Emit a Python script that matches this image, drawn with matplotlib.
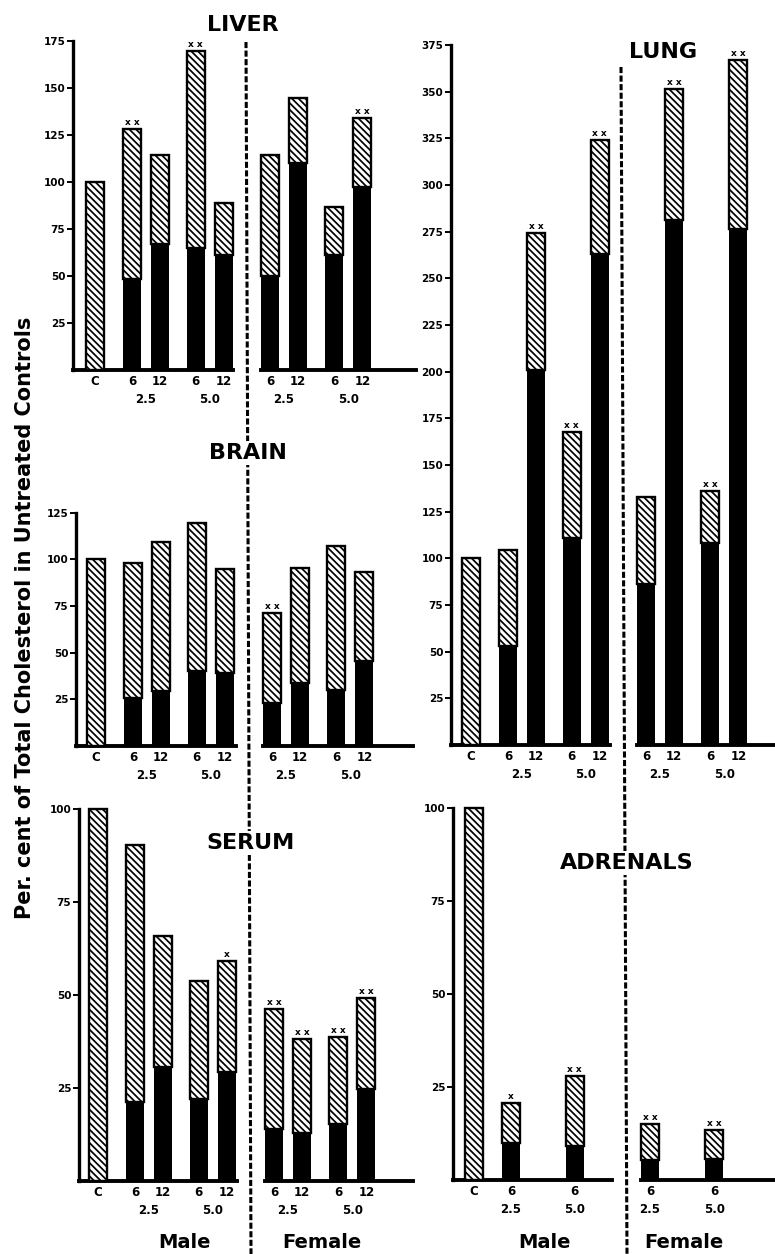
import matplotlib
matplotlib.use("Agg")
import matplotlib.pyplot as plt
from matplotlib.lines import Line2D
import numpy as np

plt.rcParams['font.family'] = ['DejaVu Sans']
plt.rcParams['font.weight'] = 'bold'
plt.rcParams['hatch.linewidth'] = 1.25

# --- data (per cent of total cholesterol in untreated controls) ---
# total bar height and the solid (black) lower part
male_hours = ['C', '6', '12', '6', '12']
female_hours = ['6', '12', '6', '12']
doses = ['2.5', '5.0']

liver_m_total = [100, 128.4, 114.5, 169.7, 88.7]
liver_m_solid = [0, 48.6, 66.8, 65.0, 61.0]
liver_m_sig = ['', 'xx', '', 'xx', '']
liver_f_total = [114.2, 144.5, 86.7, 134.2]
liver_f_solid = [50.0, 110.3, 61.0, 97.3]
liver_f_sig = ['', '', '', 'xx']

brain_m_total = [100, 98.2, 109.1, 119.3, 94.6]
brain_m_solid = [0, 25.5, 29.5, 40.2, 39.3]
brain_m_sig = ['', '', '', '', '']
brain_f_total = [71.4, 95.2, 107.3, 93.0]
brain_f_solid = [23.2, 33.9, 30.0, 45.7]
brain_f_sig = ['xx', '', '', '']

serum_m_total = [100, 90.3, 65.9, 53.8, 59.1]
serum_m_solid = [0, 21.2, 30.6, 22.0, 29.3]
serum_m_sig = ['', '', '', '', 'x']
serum_f_total = [46.2, 38.1, 38.7, 49.3]
serum_f_solid = [13.9, 13.0, 15.4, 24.8]
serum_f_sig = ['xx', 'xx', 'xx', 'xx']

lung_m_total = [100, 104.3, 274.0, 167.7, 324.0]
lung_m_solid = [0, 53.2, 200.7, 110.7, 262.8]
lung_m_sig = ['', '', 'xx', 'xx', 'xx']
lung_f_total = [133.0, 351.1, 136.2, 366.7]
lung_f_solid = [86.0, 281.2, 108.0, 276.6]
lung_f_sig = ['', 'xx', 'xx', 'xx']

adrenal_m_hours = ['C', '6', '6']
adrenal_f_hours = ['6', '6']
adrenal_m_total = [100, 20.8, 28.0]
adrenal_m_solid = [0, 10.0, 9.1]
adrenal_m_sig = ['', 'x', 'xx']
adrenal_f_total = [15.0, 13.4]
adrenal_f_solid = [5.3, 5.6]
adrenal_f_sig = ['xx', 'xx']

W, H = 775, 1254
fig = plt.figure(figsize=(W / 100, H / 100), dpi=100)

UNIT = 28.0          # pixels per slot
BAR_W = 0.64
pos_m5 = [0, 1.32, 2.32, 3.6, 4.6]
pos_f4 = [0, 1.0, 2.3, 3.3]
pos_m3 = [0, 1.32, 3.6]
pos_f2 = [0, 2.3]


def px_axes(left, right, base, top):
    return fig.add_axes([left / W, 1 - base / H, (right - left) / W, (base - top) / H])


def draw_bars(ax, pos, total, solid, sig):
    total = np.array(total)
    solid = np.array(solid)
    ax.bar(pos, solid, BAR_W, color='black', linewidth=0, clip_on=False, zorder=2)
    ax.bar(pos, total - solid, BAR_W, bottom=solid, facecolor='white',
           edgecolor='black', hatch='\\\\\\\\\\', linewidth=1.7, clip_on=False, zorder=3)
    for p, t, s in zip(pos, total, sig):
        if s:
            ax.annotate(' '.join(s) if len(s) > 1 else s, (p, t), xytext=(0, 1.5),
                        textcoords='offset points', ha='center', va='bottom',
                        fontsize=6.5, fontweight='bold')


def style(ax, ymax, left_axis):
    ax.set_facecolor('none')
    ax.set_ylim(0, ymax)
    for s in ['top', 'right']:
        ax.spines[s].set_visible(False)
    ax.spines['bottom'].set_linewidth(2.8)
    ax.tick_params(axis='x', length=0, pad=3.5, labelsize=8.5)
    if left_axis:
        ax.spines['left'].set_linewidth(2.4)
        ax.set_yticks(np.arange(25, ymax + 1, 25))
        ax.tick_params(axis='y', direction='out', length=4, width=1.4,
                       pad=1.5, labelsize=7.5)
        for lab in ax.get_yticklabels():
            lab.set_fontweight('bold')
    else:
        ax.spines['left'].set_visible(False)
        ax.set_yticks([])
    for lab in ax.get_xticklabels():
        lab.set_fontweight('bold')


def dose_labels(ax, centers):
    for c, d in zip(centers, doses):
        ax.annotate(d, (c, 0), xycoords=('data', 'axes fraction'), xytext=(0, -21.5),
                    textcoords='offset points', ha='center', va='center',
                    fontsize=8.5, fontweight='bold')


def panel(geom, ymax, m_pos, m_hours, m_total, m_solid, m_sig,
          f_pos, f_hours, f_total, f_solid, f_sig, m_dose, f_dose):
    axis_x, c_x, m_end, f_x0, f_end, base, ppu = geom
    top = base - ymax * ppu
    f_start = f_x0 - 9
    axm = px_axes(axis_x, m_end, base, top)
    axm.set_xlim((axis_x - c_x) / UNIT, (m_end - c_x) / UNIT)
    draw_bars(axm, m_pos, m_total, m_solid, m_sig)
    axm.set_xticks(m_pos, m_hours)
    style(axm, ymax, True)
    dose_labels(axm, m_dose)

    axf = px_axes(f_start, f_end, base, top)
    axf.set_xlim((f_start - f_x0) / UNIT, (f_end - f_x0) / UNIT)
    draw_bars(axf, f_pos, f_total, f_solid, f_sig)
    axf.set_xticks(f_pos, f_hours)
    style(axf, ymax, False)
    dose_labels(axf, f_dose)


m_dose5 = [1.82, 4.1]
f_dose4 = [0.5, 2.8]

panel((73, 95, 233, 270, 416, 370, 1.88), 175, pos_m5, male_hours, liver_m_total,
      liver_m_solid, liver_m_sig, pos_f4, female_hours, liver_f_total, liver_f_solid,
      liver_f_sig, m_dose5, f_dose4)
panel((76, 96, 236, 272, 413, 746, 1.867), 125, pos_m5, male_hours, brain_m_total,
      brain_m_solid, brain_m_sig, pos_f4, female_hours, brain_f_total, brain_f_solid,
      brain_f_sig, m_dose5, f_dose4)
panel((79, 98, 237, 274, 413, 1181, 3.72), 100, pos_m5, male_hours, serum_m_total,
      serum_m_solid, serum_m_sig, pos_f4, female_hours, serum_f_total, serum_f_solid,
      serum_f_sig, m_dose5, f_dose4)
panel((451, 471, 610, 646, 775, 745, 1.867), 375, pos_m5, male_hours, lung_m_total,
      lung_m_solid, lung_m_sig, pos_f4, female_hours, lung_f_total, lung_f_solid,
      lung_f_sig, m_dose5, f_dose4)
panel((453, 474, 612, 650, 775, 1180, 3.72), 100, pos_m3, adrenal_m_hours,
      adrenal_m_total, adrenal_m_solid, adrenal_m_sig, pos_f2, adrenal_f_hours,
      adrenal_f_total, adrenal_f_solid, adrenal_f_sig, [1.32, 3.6], [0, 2.3])

# dashed separators between male and female
for (x0, y0, x1, y1) in [(246, 42, 251, 1254), (621, 67, 627, 1254)]:
    fig.add_artist(Line2D([x0 / W, x1 / W], [1 - y0 / H, 1 - y1 / H],
                          transform=fig.transFigure, color='black', lw=2.2,
                          linestyle=(0, (2.0, 0.8)), zorder=1))

titles = [('LIVER', 243, 25), ('BRAIN', 248, 453), ('SERUM', 251, 843),
          ('LUNG', 663, 52), ('ADRENALS', 627, 863)]
for t, x, y in titles:
    fig.text(x / W, 1 - y / H, t, ha='center', va='center', fontsize=16,
             fontweight='bold', zorder=5,
             bbox=dict(facecolor='white', edgecolor='none', pad=1.5))

for t, x in [('Male', 184), ('Female', 322), ('Male', 545), ('Female', 684)]:
    fig.text(x / W, 1 - 1243 / H, t, ha='center', va='center', fontsize=14,
             fontweight='bold', zorder=5,
             bbox=dict(facecolor='white', edgecolor='none', pad=1.0))

fig.text(25 / W, 1 - 618 / H, 'Per. cent of Total Cholesterol in Untreated Controls',
         rotation=90, ha='center', va='center', fontsize=15, fontweight='bold')

fig.savefig('out.png', dpi=100, facecolor='white')
